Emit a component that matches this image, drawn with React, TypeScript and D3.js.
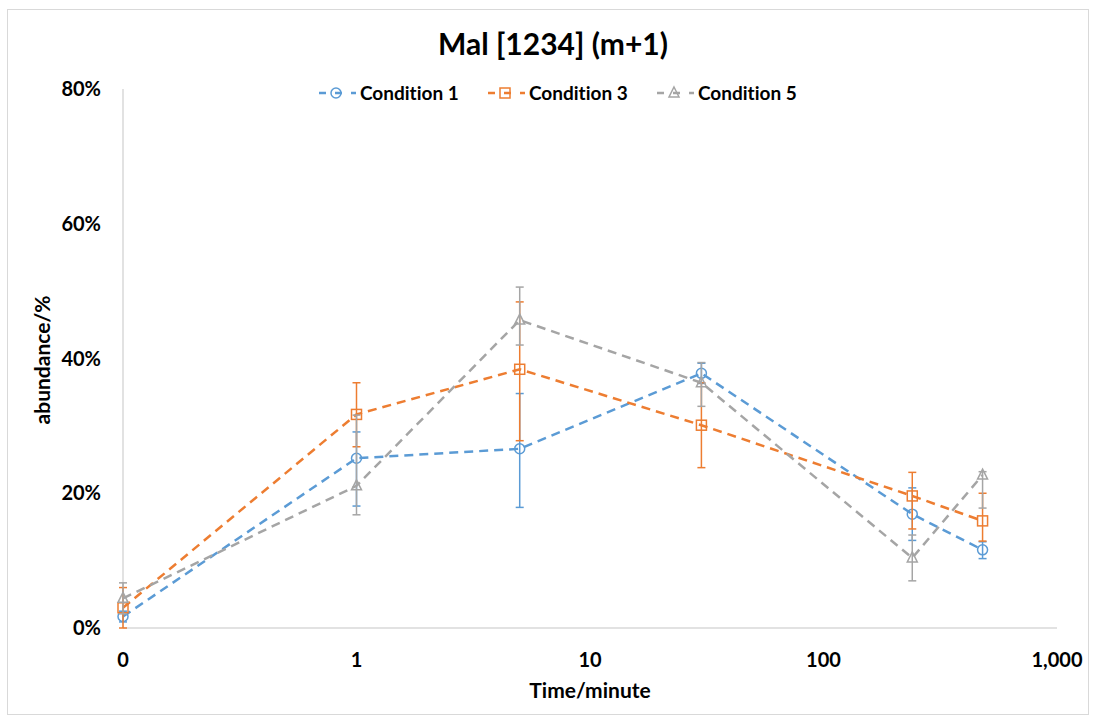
import React from "react";
import * as d3 from "d3";

const timeMinutes = [0.1, 1, 5, 30, 240, 480];
const xTicks = [0.1, 1, 10, 100, 1000];
const yTicks = [0, 0.2, 0.4, 0.6, 0.8];

const seriesNames = ["Condition 1", "Condition 3", "Condition 5"];
const cond1 = [1.7, 25.2, 26.6, 37.8, 16.9, 11.6];
const cond1Plus = [0.8, 3.9, 8.2, 1.5, 3.9, 1.2];
const cond1Minus = [0.8, 7.1, 8.7, 1.5, 3.9, 1.3];
const cond3 = [3.0, 31.7, 38.4, 30.1, 19.6, 15.9];
const cond3Plus = [3.0, 4.7, 10.0, 6.3, 3.5, 4.1];
const cond3Minus = [3.0, 4.8, 10.6, 6.3, 4.9, 3.0];
const cond5 = [4.4, 21.1, 45.7, 36.4, 10.4, 22.7];
const cond5Plus = [2.3, 10.5, 4.9, 3.0, 3.4, 0.5];
const cond5Minus = [2.3, 4.3, 3.7, 3.5, 3.4, 4.9];

const colors = ["#5B9BD5", "#ED7D31", "#A5A5A5"];
const markers = ["circle", "square", "triangle"];

const FONT = "Lato, 'Open Sans', sans-serif";

function Marker({ type, x, y, color }: { type: string; x: number; y: number; color: string }) {
  const s = 5;
  if (type === "circle") return <circle cx={x} cy={y} r={s} fill="none" stroke={color} strokeWidth={1.5} />;
  if (type === "square")
    return <rect x={x - s} y={y - s} width={2 * s} height={2 * s} fill="none" stroke={color} strokeWidth={1.5} />;
  const h = 10;
  return (
    <path
      d={`M${x},${y - h * 0.6}L${x + s},${y + h * 0.4}L${x - s},${y + h * 0.4}Z`}
      fill="none"
      stroke={color}
      strokeWidth={1.5}
    />
  );
}

export default function App() {
  const W = 1094;
  const H = 719;
  const x = d3.scaleLog().domain([0.1, 1000]).range([123, 1057]);
  const y = d3.scaleLinear().domain([0, 0.8]).range([628, 89]);
  const fmtX = d3.format(",.0f");
  const fmtY = d3.format(".0%");

  const series = [
    { name: seriesNames[0], v: cond1, p: cond1Plus, m: cond1Minus },
    { name: seriesNames[1], v: cond3, p: cond3Plus, m: cond3Minus },
    { name: seriesNames[2], v: cond5, p: cond5Plus, m: cond5Minus },
  ];

  const line = d3
    .line<number>()
    .x((_, i) => x(timeMinutes[i]))
    .y((d) => y(d / 100));

  const legendX = [319, 488, 657];

  return (
    <svg
      width={W}
      height={H}
      style={{ position: "absolute", left: 0, top: 0, background: "#fff", fontVariantLigatures: "none" }}
      fontFamily={FONT}
    >
      <rect x={7.5} y={9.5} width={1081} height={705} fill="#fff" stroke="#d9d9d9" strokeWidth={1} />
      <text x={553} y={55} textAnchor="middle" fontSize={30} fontWeight="bold" fill="#000">
        Mal [1234] (m+1)
      </text>

      {/* axes */}
      <line x1={x(0.1)} x2={x(0.1)} y1={y(0.8)} y2={y(0)} stroke="#d9d9d9" strokeWidth={1.5} />
      <line x1={x(0.1)} x2={x(1000)} y1={y(0)} y2={y(0)} stroke="#d9d9d9" strokeWidth={1.5} />

      {yTicks.map((t) => (
        <text key={t} x={101} y={y(t)} dy="0.35em" textAnchor="end" fontSize={20} fontWeight="bold" fill="#000">
          {fmtY(t)}
        </text>
      ))}
      {xTicks.map((t) => (
        <text key={t} x={x(t)} y={660} dy="0.35em" textAnchor="middle" fontSize={20} fontWeight="bold" fill="#000">
          {fmtX(t)}
        </text>
      ))}
      <text x={590} y={691} dy="0.35em" textAnchor="middle" fontSize={21} fontWeight="bold" fill="#000">
        Time/minute
      </text>
      <text
        transform={`translate(43,360) rotate(-90)`}
        dy="0.35em"
        textAnchor="middle"
        fontSize={21}
        fontWeight="bold"
        fill="#000"
      >
        abundance/%
      </text>

      {/* series */}
      {series.map((s, si) => (
        <g key={s.name}>
          <path
            d={line(s.v) || ""}
            fill="none"
            stroke={colors[si]}
            strokeWidth={2.5}
            strokeDasharray="9,6"
          />
          {s.v.map((v, i) => {
            const cx = x(timeMinutes[i]);
            const top = y((v + s.p[i]) / 100);
            const bot = y(Math.max(0, v - s.m[i]) / 100);
            return (
              <g key={i} stroke={colors[si]} strokeWidth={1.5}>
                <line x1={cx} x2={cx} y1={top} y2={bot} />
                <line x1={cx - 4} x2={cx + 4} y1={top} y2={top} />
                <line x1={cx - 4} x2={cx + 4} y1={bot} y2={bot} />
              </g>
            );
          })}
          {s.v.map((v, i) => (
            <Marker key={i} type={markers[si]} x={x(timeMinutes[i])} y={y(v / 100)} color={colors[si]} />
          ))}
        </g>
      ))}

      {/* legend */}
      {series.map((s, si) => (
        <g key={s.name}>
          <line
            x1={legendX[si]}
            x2={legendX[si] + 37}
            y1={93}
            y2={93}
            stroke={colors[si]}
            strokeWidth={2.5}
            strokeDasharray="7,9"
            strokeDashoffset={0}
          />
          <Marker type={markers[si]} x={legendX[si] + 17} y={93} color={colors[si]} />
          <text x={legendX[si] + 41} y={93} dy="0.35em" fontSize={19} fontWeight="bold" fill="#000">
            {s.name}
          </text>
        </g>
      ))}
    </svg>
  );
}
